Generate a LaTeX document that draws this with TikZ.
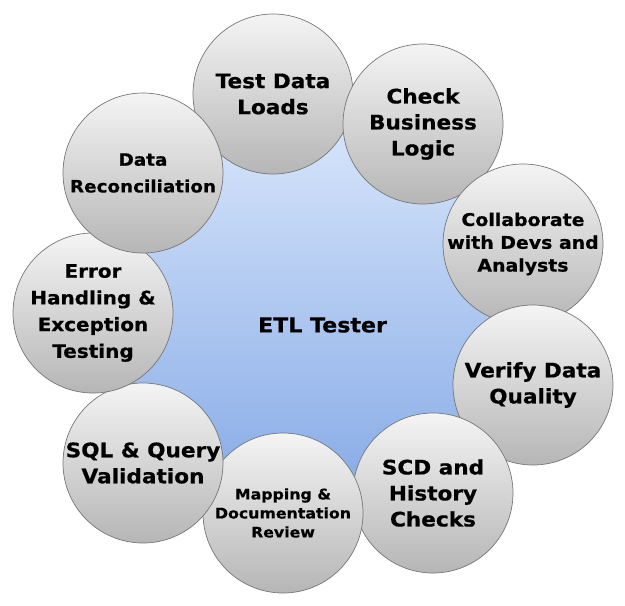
\documentclass[tikz,border=0pt]{standalone}
\usepackage{fontspec}
\setmainfont{DejaVu Sans}[BoldFeatures={FakeStretch=1.08,FakeBold=0.6}]
\begin{document}
\begin{tikzpicture}[x=1pt,y=-1pt,
  hub/.style={circle, inner sep=-40pt, minimum size=412pt,
    top color={rgb,255:red,216;green,230;blue,251},
    bottom color={rgb,255:red,128;green,166;blue,228}},
  petal/.style={circle, inner sep=-20pt, minimum size=160pt, align=center,
    draw={rgb,255:red,118;green,118;blue,118}, line width=0.7pt,
    top color={rgb,255:red,244;green,244;blue,244},
    bottom color={rgb,255:red,182;green,182;blue,182},
    font=\bfseries},
  big/.style={font=\bfseries\fontsize{20}{26}\selectfont},
]
\useasboundingbox (0,0) rectangle (625,606);

% central role
\node[hub, font=\bfseries\fontsize{20.5}{26}\selectfont] (hub) at (321,321)
  {\raisebox{-4pt}[\height][\depth]{\hspace{3pt}ETL Tester}};

% surrounding activities, drawn clockwise from the top
\node[petal, big] (loads) at (273,94) {Test Data\\Loads};
\node[petal, big] (logic) at (423,124) {Check\\Business\\Logic};
\node[petal, font=\bfseries\fontsize{17.5}{22.8}\selectfont] (collab) at (523,244) {Collaborate\\with Devs and\\Analysts};
\node[petal, big] (quality) at (533,385) {Verify Data\\Quality};
\node[petal, big] (scd) at (433,493) {SCD and\\History\\Checks};
\node[petal, font=\bfseries\fontsize{14.6}{19}\selectfont] (mapping) at (283,513) {Mapping \&\\Documentation\\Review};
\node[petal, big] (sql) at (143,463) {SQL \& Query\\Validation};
\node[petal, font=\bfseries\fontsize{18.5}{26.7}\selectfont] (error) at (93,313) {Error\\Handling \&\\Exception\\Testing};
\node[petal, font=\bfseries\fontsize{17}{26.7}\selectfont] (recon) at (143,173) {Data\\Reconciliation};
\end{tikzpicture}
\end{document}
